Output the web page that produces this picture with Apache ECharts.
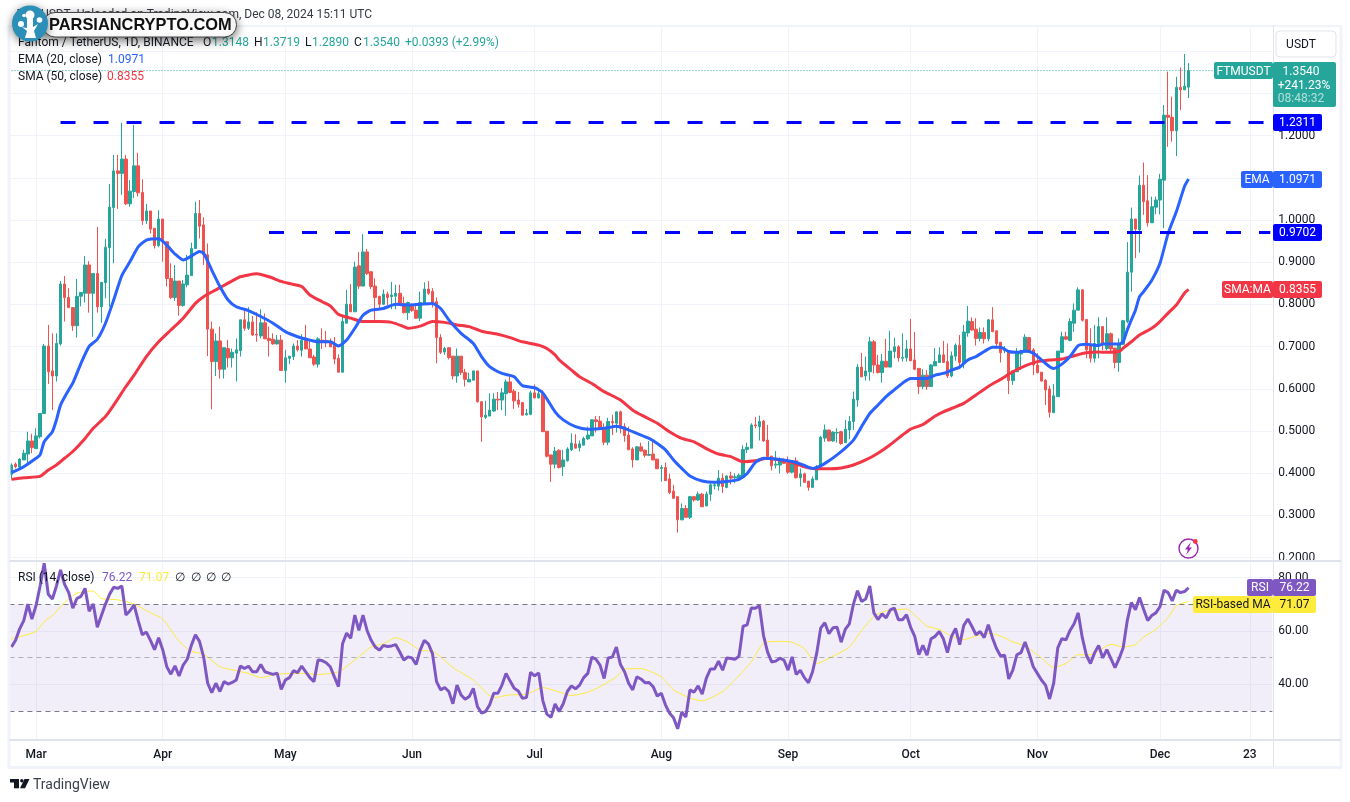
<!DOCTYPE html>
<html>
<head>
<meta charset="utf-8">
<title>FTMUSDT</title>
<script src="https://cdn.jsdelivr.net/npm/echarts@6/dist/echarts.min.js"></script>
<style>
  html, body { margin: 0; padding: 0; background: #fff; }
  #chart { width: 1350px; height: 802px; }
</style>
</head>
<body>
<div id="chart"></div>
<script>
// daily candles, first bar is Feb 24 2024, last is Dec 8 2024. rows of 10
const opens = [
  .395,.419,.412,.429,.443,.474,.456,.484,.539,.699,
  .640,.628,.704,.846,.814,.79,.747,.817,.824,.891,
  .824,.871,.792,.849,.932,1.027,1.114,1.108,1.142,1.036,
  1.065,1.126,1.063,.996,1.019,.978,.937,1.0,.946,.859,
  .814,.853,.795,.844,.866,.93,1.013,.986,.915,.739,
  .662,.711,.644,.693,.671,.682,.688,.761,.741,.756,
  .727,.723,.754,.717,.715,.704,.713,.641,.67,.674,
  .699,.689,.712,.692,.673,.656,.713,.712,.709,.701,
  .67,.637,.753,.798,.78,.889,.841,.922,.875,.841,
  .817,.798,.822,.816,.817,.824,.8,.778,.796,.784,
  .765,.8,.834,.828,.804,.719,.685,.695,.675,.628,
  .675,.636,.614,.618,.64,.567,.53,.533,.545,.573,
  .571,.586,.614,.592,.571,.565,.536,.537,.588,.576,
  .586,.497,.441,.419,.452,.413,.427,.453,.467,.458,
  .464,.479,.486,.524,.521,.504,.471,.52,.516,.543,
  .508,.488,.455,.429,.46,.452,.44,.443,.431,.409,
  .411,.384,.355,.342,.287,.314,.293,.342,.334,.348,
  .32,.348,.368,.367,.386,.364,.391,.387,.385,.389,
  .454,.457,.512,.508,.521,.476,.438,.417,.417,.429,
  .421,.4,.427,.387,.396,.379,.364,.382,.413,.481,
  .5,.474,.493,.496,.47,.50,.52,.571,.649,.628,
  .638,.709,.654,.636,.663,.649,.686,.697,.67,.671,
  .692,.666,.646,.603,.63,.603,.652,.66,.678,.662,
  .628,.675,.701,.66,.73,.757,.739,.717,.731,.716,
  .761,.735,.708,.688,.687,.617,.638,.68,.684,.719,
  .69,.654,.637,.618,.597,.541,.579,.684,.721,.712,
  .753,.784,.832,.762,.701,.67,.701,.745,.693,.728,
  .694,.66,.703,.757,.874,1.0,.974,1.08,1.043,.991,
  1.028,1.045,1.092,1.246,1.241,1.209,1.312,1.306,1.3148
];
const closes = [
  .417,.413,.431,.445,.474,.458,.486,.539,.699,.638,
  .628,.705,.846,.814,.79,.747,.817,.826,.891,.824,
  .871,.792,.85,.933,1.028,1.114,1.108,1.142,1.036,1.066,
  1.126,1.062,.996,1.019,.976,.937,1.0,.946,.859,.814,
  .853,.795,.846,.867,.93,1.013,.983,.915,.739,.662,
  .711,.644,.695,.671,.684,.69,.761,.741,.756,.725,
  .725,.754,.716,.712,.704,.713,.641,.671,.675,.699,
  .69,.712,.692,.671,.656,.716,.711,.707,.697,.668,
  .637,.757,.798,.78,.886,.841,.922,.871,.84,.814,
  .798,.822,.814,.82,.824,.796,.778,.802,.783,.765,
  .802,.834,.824,.8,.719,.684,.693,.672,.628,.675,
  .636,.62,.62,.64,.567,.531,.535,.547,.573,.571,
  .588,.614,.589,.569,.561,.535,.539,.588,.576,.586,
  .496,.438,.419,.45,.411,.429,.455,.469,.457,.467,
  .48,.488,.524,.52,.502,.471,.52,.517,.543,.504,
  .487,.453,.429,.46,.45,.44,.442,.429,.408,.411,
  .38,.352,.338,.287,.314,.293,.342,.334,.348,.318,
  .348,.37,.37,.386,.366,.391,.386,.389,.393,.454,
  .459,.512,.51,.52,.474,.437,.415,.419,.427,.421,
  .4,.427,.387,.396,.376,.364,.384,.413,.483,.50,
  .474,.495,.494,.468,.502,.52,.573,.649,.626,.64,
  .709,.654,.636,.663,.649,.687,.697,.671,.672,.692,
  .664,.644,.603,.63,.603,.654,.662,.678,.66,.628,
  .676,.701,.66,.732,.758,.737,.717,.731,.716,.761,
  .733,.705,.683,.691,.617,.64,.683,.687,.72,.686,
  .654,.636,.616,.595,.542,.581,.687,.721,.715,.757,
  .784,.832,.76,.69,.67,.705,.745,.705,.728,.692,
  .66,.705,.759,.874,1.0,.976,1.08,1.041,.991,1.029,
  1.045,1.094,1.246,1.241,1.209,1.312,1.306,1.3148,1.354
];
const lows = [
  .383,.409,.405,.429,.421,.445,.456,.48,.538,.609,
  .547,.615,.7,.757,.79,.735,.719,.793,.802,.778,
  .721,.778,.754,.812,.792,.895,1.024,1.057,1.033,1.029,
  1.05,1.053,.986,.988,.966,.93,.933,.899,.84,.81,
  .806,.771,.792,.838,.866,.93,.954,.891,.675,.549,
  .628,.622,.622,.648,.648,.615,.674,.735,.737,.723,
  .709,.717,.715,.674,.702,.702,.641,.612,.656,.666,
  .686,.674,.692,.671,.652,.648,.692,.696,.697,.656,
  .637,.636,.753,.78,.78,.834,.841,.867,.834,.761,
  .784,.796,.796,.786,.786,.796,.776,.761,.78,.763,
  .758,.8,.82,.79,.658,.68,.678,.667,.62,.612,
  .63,.603,.614,.618,.565,.472,.526,.533,.543,.547,
  .547,.534,.587,.55,.553,.535,.534,.535,.575,.575,
  .496,.435,.377,.409,.409,.391,.425,.45,.457,.449,
  .464,.476,.486,.494,.5,.464,.464,.488,.494,.492,
  .472,.453,.411,.429,.449,.435,.438,.429,.408,.378,
  .38,.348,.338,.257,.287,.293,.289,.33,.332,.318,
  .32,.332,.359,.356,.351,.362,.371,.374,.381,.389,
  .445,.457,.504,.475,.472,.433,.404,.409,.397,.419,
  .396,.397,.385,.366,.375,.356,.364,.382,.411,.472,
  .474,.472,.47,.465,.47,.478,.50,.555,.625,.617,
  .617,.634,.634,.612,.649,.649,.67,.662,.662,.662,
  .664,.642,.585,.597,.595,.603,.652,.66,.66,.623,
  .625,.664,.65,.646,.721,.735,.7,.71,.705,.71,
  .732,.698,.66,.682,.585,.607,.638,.642,.684,.684,
  .63,.634,.615,.559,.529,.541,.579,.682,.713,.71,
  .733,.784,.757,.67,.66,.66,.67,.689,.689,.682,
  .646,.638,.701,.753,.828,.907,.92,1.01,.982,.991,
  1.011,1.011,.978,1.171,1.183,1.149,1.258,1.306,1.289
];
const highs = [
  .421,.423,.433,.453,.496,.491,.504,.54,.704,.749,
  .729,.729,.853,.865,.836,.79,.858,.826,.912,.90,
  .871,.981,.85,.953,1.083,1.152,1.152,1.228,1.152,1.092,
  1.223,1.157,1.094,1.036,1.019,.978,1.021,1.0,.946,.895,
  .891,.853,.855,.915,.944,1.041,1.045,1.004,.942,.757,
  .729,.745,.695,.713,.693,.717,.762,.788,.791,.77,
  .779,.786,.776,.745,.729,.725,.725,.69,.675,.705,
  .713,.727,.749,.712,.678,.72,.741,.735,.717,.72,
  .679,.768,.832,.846,.899,.922,.964,.929,.875,.859,
  .817,.833,.828,.851,.844,.844,.816,.804,.8,.8,
  .828,.85,.853,.836,.814,.727,.697,.695,.675,.693,
  .675,.645,.636,.64,.64,.567,.569,.587,.587,.59,
  .599,.62,.628,.597,.59,.565,.55,.593,.608,.594,
  .594,.497,.441,.46,.454,.453,.459,.492,.49,.475,
  .484,.508,.525,.533,.533,.516,.529,.536,.543,.546,
  .516,.508,.459,.462,.47,.454,.474,.476,.431,.417,
  .423,.396,.37,.342,.326,.322,.344,.344,.354,.351,
  .354,.374,.378,.405,.397,.393,.401,.397,.397,.464,
  .47,.516,.531,.534,.524,.512,.438,.45,.435,.433,
  .437,.429,.435,.409,.399,.379,.39,.417,.486,.513,
  .5,.497,.504,.498,.524,.533,.591,.656,.683,.674,
  .721,.713,.678,.68,.716,.735,.719,.701,.729,.713,
  .763,.732,.646,.644,.642,.656,.694,.696,.711,.705,
  .686,.705,.725,.749,.794,.767,.765,.743,.743,.763,
  .791,.735,.708,.699,.687,.64,.694,.69,.727,.719,
  .694,.682,.637,.62,.605,.609,.687,.733,.733,.765,
  .8,.838,.834,.762,.741,.749,.767,.745,.767,.731,
  .694,.717,.761,.945,1.027,1.0,1.103,1.134,1.104,1.053,
  1.053,1.107,1.27,1.349,1.29,1.337,1.359,1.391,1.3719
];

// moving averages read at these bar numbers
const emaDays = [0,3,6,7,8,10,11,12,14,15,17,19,21,23,25,27,29,31,33,36,38,40,42,44,46,47,49,51,53,55,58,61,64,67,70,73,75,78,80,82,84,86,88,91,94,97,100,103,105,107,110,113,115,117,120,123,125,128,130,133,135,138,141,145,148,150,153,156,158,160,162,164,166,169,172,175,178,180,182,184,187,190,192,194,196,198,200,202,204,206,208,210,212,214,216,218,220,222,224,226,228,230,232,234,236,238,240,242,244,246,248,250,252,254,255,257,259,261,263,266,267,271,272,273,274,275,276,277,279,281,283,285,287,288];
const emaValues = [.399,.413,.433,.441,.472,.496,.524,.559,.595,.611,.658,.698,.715,.753,.808,.866,.899,.934,.95,.953,.938,.917,.903,.912,.923,.919,.879,.84,.808,.792,.783,.769,.753,.733,.721,.713,.709,.709,.699,.713,.741,.772,.784,.788,.798,.796,.798,.8,.788,.761,.729,.705,.674,.65,.634,.626,.605,.6,.588,.543,.524,.508,.502,.504,.509,.504,.492,.48,.468,.453,.429,.409,.391,.379,.376,.378,.383,.397,.423,.433,.431,.427,.423,.416,.409,.415,.427,.441,.457,.476,.508,.539,.559,.579,.595,.611,.622,.622,.622,.63,.634,.642,.649,.666,.674,.686,.696,.696,.686,.684,.687,.682,.666,.65,.646,.656,.674,.7,.703,.7,.704,.704,.709,.737,.761,.784,.816,.828,.855,.895,.966,1.017,1.077,1.0971];
const smaDays = [0,3,7,9,11,13,15,18,20,23,25,28,30,33,36,39,42,45,47,50,53,56,60,63,66,68,71,73,76,78,80,83,86,90,93,96,97,100,103,106,109,112,115,119,122,125,129,131,133,134,137,139,142,145,149,152,155,158,161,164,167,170,173,176,179,182,185,188,191,194,197,200,203,206,209,212,215,218,220,223,226,228,231,233,236,239,242,245,248,251,254,257,260,263,266,267,271,272,274,276,279,281,283,285,287,288];
const smaValues = [.383,.387,.39,.405,.417,.433,.449,.48,.504,.532,.559,.603,.63,.674,.709,.737,.765,.8,.816,.832,.848,.863,.87,.863,.852,.847,.84,.82,.804,.794,.774,.765,.757,.757,.755,.745,.741,.746,.757,.755,.749,.745,.734,.727,.719,.709,.701,.693,.678,.666,.642,.626,.61,.591,.571,.547,.531,.516,.496,.48,.472,.456,.443,.437,.425,.427,.433,.429,.423,.413,.408,.408,.41,.417,.429,.445,.465,.488,.502,.513,.533,.543,.555,.563,.583,.603,.62,.638,.652,.662,.666,.668,.676,.683,.685,.684,.686,.694,.709,.725,.741,.757,.777,.796,.824,.8355];

const rsiValues = [
  54,56.5,60.8,63.9,70.1,64.5,69.5,76.9,85.4,73.8,
  72,76.9,82.9,77.5,74.4,68.6,72.2,73,76,67.4,
  70.1,61.4,65.8,70.1,73.8,76.4,76,76.9,66,67.6,
  69.8,63.9,58.6,59.6,56.5,53,57.5,53,46.6,43.8,
  46.9,43.1,47.2,49.4,54.6,58.6,56.1,50.3,40.4,36.9,
  40.4,37.3,41,40.1,40.7,41.6,46.9,45.9,46.8,44.7,
  44.7,47.4,44.7,44.2,43.7,44.2,38.1,41.6,42.5,45.1,
  44.4,46.8,44.7,42.5,41,49.1,48.9,48.1,46.6,42.8,
  39.1,55.2,59.2,57.3,66,60.2,66,60.2,56.5,54,
  52.8,54.6,54.2,54.4,54.9,52.1,49.1,50.3,49.9,47.4,
  52.8,56.5,55.2,51.5,41,37.9,38.8,37.3,32.7,39.7,
  36,34.4,35.4,38.5,31.7,29.2,29.8,32.3,36.6,36.6,
  39.7,44.1,41.2,38.5,37.5,34.8,35,44.5,43.2,44.3,
  33.9,28.8,27.6,32.6,29.8,32.7,37.3,39.4,38.3,39.7,
  42.5,44.1,50.2,49.4,47.2,42.2,49.9,50.2,54,47.4,
  44.7,40.4,37.9,42.8,42,40.6,40.7,39.1,35.6,36.6,
  32.3,29.2,27.4,23.3,29.6,27.7,37.9,37,39.4,36.3,
  42.2,45.7,45.7,48.7,45.3,49.9,49.7,49.4,50.5,61.8,
  62.3,68.6,68.5,69.5,58.3,52.1,48.4,48.7,49.8,49.1,
  45.3,50.3,43.7,45.3,42.5,40.6,44.7,51.5,61.1,63.1,
  59,61.2,61.4,55.8,60.6,62.7,70.1,75.1,71.1,72,
  76.9,66.8,64.3,66.4,64.9,67.9,68.6,64.2,64.2,66.1,
  61.4,58,51.1,54.6,50.9,57.1,58,59.8,57.1,51.9,
  58,61,54.9,62.1,64.5,61.7,58.6,59.8,57.5,62.4,
  57.5,53.4,50.6,50.9,42,45.3,51.1,51.9,55.9,51.5,
  46.6,44.1,41.6,39.7,34.5,40.4,53.7,57.1,56.7,60.2,
  62.7,66.8,57.5,50.9,47.8,51.8,54.6,49.9,53,49.6,
  46.3,49.6,53.7,63.9,70.7,68,72.6,68.2,63.9,65.8,
  66.8,69.1,75.3,74.4,71.3,75.3,74.4,74.8,76.22
];
const rsiMaDays = [0,6,8,10,13,16,20,22,26,30,34,37,41,44,47,51,55,58,61,65,71,75,80,84,88,91,94,97,100,103,105,108,113,118,121,122,126,130,133,137,141,144,148,150,154,159,162,166,169,174,177,181,184,188,191,194,197,201,205,208,211,214,219,222,224,227,230,233,236,239,242,245,248,252,255,258,261,264,269,272,275,277,280,283,285,288];
const rsiMaValues = [57.1,59.8,63.5,65.8,70.7,74.2,75,72.2,71.7,70.1,66.8,64.5,56.1,52.4,51.3,46.6,45.1,44.1,42.5,43.8,44.1,43.7,44.7,49.1,54,55.2,57.5,55.8,52.8,52.4,50.3,46.3,41.6,35,35.8,36,36.3,38.8,37.6,35.8,37,39.1,42.8,45.7,45.9,42.8,37.9,34.8,33.8,37.3,41.6,48.4,55.5,56.1,55.8,53.4,47.8,50.5,54,60.2,65.4,67.6,68.2,64.5,61.8,60.6,58.1,56.8,58.1,59.2,58.1,55.9,54.4,49.9,46.3,47.8,51.1,51.1,55,54,54.9,57.7,60.6,65.1,69.5,71.07];

const priceTicks = [.2,.3,.4,.5,.6,.7,.8,.9,1,1.1,1.2,1.3,1.4];
const priceLabels = [.2,.3,.4,.5,.6,.7,.8,.9,1,1.2];
const rsiTicks = [40,60,80];
const monthBars = [6,37,67,98,128,159,190,220,251,281,303];
const monthNames = ["Mar","Apr","May","Jun","Jul","Aug","Sep","Oct","Nov","Dec","23"];
const supportLevels = [1.2311, 0.9702];
const supportStarts = [12, 63];
const lastPrice = 1.354;

// the values above were read against a scale sitting one pixel high, so nudge them.
// the last bar is printed on the chart and stays exact
const READ_BIAS = 0.0024;
const fix = (v, i, arr) => (i < arr.length - 1 ? +(v + READ_BIAS).toFixed(4) : v);

// one category per day, the axis carries on past the last bar
const days = [];
for (let i = 0; i < 309; i++) {
  days.push(new Date(Date.UTC(2024, 1, 24 + i)).toISOString().slice(0, 10));
}
const lastCat = days.length - 1;

const FONT = "Roboto, 'Noto Sans', sans-serif";
const TEXT = "#131722";
const GREEN = "#26a69a";
const RED = "#ef5350";
const BLUE = "#2962ff";
const MA_RED = "#f23645";
const PURPLE = "#7e57c2";
const YELLOW = "#ffeb3b";
const GRID = "#f0f3fa";
const BORDER = "#e0e3eb";

const [o2, c2, l2, h2] = [opens, closes, lows, highs].map(a => a.map(fix));
const candleData = o2.map((o, i) => [o, c2[i], l2[i], h2[i]]);
const isMonth = idx => monthBars.indexOf(idx) >= 0;

// helpers for the bits drawn on top of the panes
function label(x, y, text, color, opts) {
  return Object.assign({
    type: "text", x, y, z: 110, silent: true,
    style: Object.assign({
      text, fill: color || TEXT, font: "12px " + FONT,
      textVerticalAlign: "middle", textAlign: "left"
    }, opts || {})
  });
}
function box(x, y, w, h, fill, r) {
  return {
    type: "rect", z: 105, silent: true,
    shape: { x, y, width: w, height: h, r: r || 0 },
    style: { fill }
  };
}
function hline(x1, x2, y, color, width) {
  return {
    type: "line", z: 90, silent: true,
    shape: { x1, y1: y, x2, y2: y },
    style: { stroke: color, lineWidth: width || 1 }
  };
}
function vline(x, y1, y2, color, width) {
  return {
    type: "line", z: 90, silent: true,
    shape: { x1: x, y1, x2: x, y2 },
    style: { stroke: color, lineWidth: width || 1 }
  };
}
const mid = { textAlign: "center" };

const graphics = [
  // frame
  hline(8, 1342, 26, GRID, 2),
  hline(8, 1342, 767.5, GRID, 3),
  vline(9, 26, 768, GRID, 3),
  vline(1341, 26, 768, GRID, 3),
  vline(1273.5, 26, 767, BORDER),
  hline(9, 1341, 561, BORDER, 2),
  hline(9, 1341, 740, BORDER, 2),

  // header + legends
  label(372, 15, "FTMUSDT  Uploaded on TradingView.com, Dec 08, 2024 15:11 UTC", "#363a45", { textAlign: "right" }),
  label(18, 42.5, "Fantom / TetherUS, 1D, BINANCE", TEXT),
  label(203, 42.5, "O", TEXT), label(212, 42.5, "1.3148", GREEN),
  label(254, 42.5, "H", TEXT), label(263, 42.5, "1.3719", GREEN),
  label(305, 42.5, "L", TEXT), label(312, 42.5, "1.2890", GREEN),
  label(354, 42.5, "C", TEXT), label(363, 42.5, "1.3540", GREEN),
  label(405, 42.5, "+0.0393 (+2.99%)", GREEN),
  label(18, 60, "EMA (20, close)", TEXT), label(108, 60, "1.0971", BLUE),
  label(18, 77, "SMA (50, close)", TEXT), label(107, 77, "0.8355", MA_RED),
  label(18, 578, "RSI (14, close)", TEXT), label(102, 578, "76.22", PURPLE),
  label(139, 578, "71.07", YELLOW),
  label(175, 578, "\u2205", TEXT), label(191, 578, "\u2205", TEXT),
  label(206, 578, "\u2205", TEXT), label(221, 578, "\u2205", TEXT),

  // right scale tags
  { type: "rect", z: 105, silent: true, shape: { x: 1276, y: 31, width: 60, height: 26, r: 4 }, style: { fill: "#fff", stroke: BORDER, lineWidth: 1 } },
  label(1301, 45, "USDT", TEXT, mid),
  box(1214, 62, 59, 17, GREEN, 2),
  label(1243.5, 71.5, "FTMUSDT", "#fff", mid),
  box(1273, 62, 63, 45, GREEN, 2),
  label(1301, 71.5, "1.3540", "#fff", mid),
  label(1304, 85.5, "+241.23%", "#fff", mid),
  label(1301, 99, "08:48:32", "rgba(255,255,255,0.65)", mid),
  box(1273, 114, 49, 17, "#0000ff", 2),
  label(1297.5, 123, "1.2311", "#fff", mid),
  box(1241, 171, 32, 17, BLUE, 2),
  label(1257, 180, "EMA", "#fff", mid),
  box(1273, 171, 49, 17, BLUE, 2),
  label(1297.5, 180, "1.0971", "#fff", mid),
  box(1273, 224, 49, 17, "#0000ff", 2),
  label(1297.5, 233, "0.9702", "#fff", mid),
  box(1222, 281, 51, 17, MA_RED, 2),
  label(1247.5, 290, "SMA:MA", "#fff", mid),
  box(1273, 281, 49, 17, MA_RED, 2),
  label(1297.5, 290, "0.8355", "#fff", mid),
  box(1247, 579, 26, 17, PURPLE, 2),
  label(1260, 588, "RSI", "#fff", mid),
  box(1273, 579, 43, 17, PURPLE, 2),
  label(1294.5, 588, "76.22", "#fff", mid),
  box(1193, 596, 80, 17, YELLOW, 2),
  label(1233, 605, "RSI-based MA", TEXT, mid),
  box(1273, 596, 43, 17, YELLOW, 2),
  label(1294.5, 605, "71.07", TEXT, mid),

  // lightning badge
  { type: "circle", z: 105, silent: true, shape: { cx: 1188.5, cy: 548.5, r: 9.5 }, style: { fill: "#fff", stroke: "#9c27b0", lineWidth: 1.4 } },
  { type: "polygon", z: 106, silent: true, shape: { points: [[1191, 542], [1185, 549.5], [1188, 549.5], [1186, 555], [1192, 547.5], [1189, 547.5]] }, style: { fill: "#9c27b0" } },
  { type: "circle", z: 107, silent: true, shape: { cx: 1195.3, cy: 541.5, r: 2.4 }, style: { fill: MA_RED } },

  // TradingView mark
  box(10, 779, 9, 3.5, "#131722"),
  box(14, 782, 5, 6.3, "#131722"),
  { type: "circle", z: 105, silent: true, shape: { cx: 21.8, cy: 780.7, r: 1.7 }, style: { fill: "#131722" } },
  { type: "polygon", z: 105, silent: true, shape: { points: [[24.5, 779], [29.5, 779], [25, 788.3], [20, 788.3]] }, style: { fill: "#131722" } },
  label(33, 785, "TradingView", "#3b3f4a", { font: "14px " + FONT }),

  // watermark logo
  { type: "rect", z: 120, silent: true, shape: { x: 43, y: 12.5, width: 193.5, height: 24.5, r: 12 },
    style: { fill: "#fff", stroke: "#444", lineWidth: 1, shadowBlur: 10, shadowColor: "rgba(0,0,0,0.55)", shadowOffsetY: 3 } },
  { type: "circle", z: 121, silent: true, shape: { cx: 30, cy: 23.5, r: 18 },
    style: { fill: "#2b8fb8", shadowBlur: 8, shadowColor: "rgba(0,0,0,0.5)", shadowOffsetY: 2 } },
  { type: "circle", z: 122, silent: true, shape: { cx: 30, cy: 15, r: 4.5 }, style: { fill: "#fff" } },
  { type: "circle", z: 122, silent: true, shape: { cx: 21, cy: 24, r: 3 }, style: { fill: "#fff" } },
  { type: "circle", z: 122, silent: true, shape: { cx: 39.5, cy: 20, r: 2.8 }, style: { fill: "#fff" } },
  { type: "circle", z: 122, silent: true, shape: { cx: 24, cy: 15.5, r: 1.8 }, style: { fill: "#fff" } },
  { type: "polygon", z: 122, silent: true, shape: { points: [[27, 19], [33, 19], [33, 27], [38, 24], [34, 31], [36, 38], [25, 38], [27, 31], [22, 27], [27, 28]] }, style: { fill: "#fff" } },
  Object.assign(label(49, 25.5, "PARSIANCRYPTO.COM", "#111", { font: "bold 16.4px 'Liberation Sans', Arial, sans-serif" }), { z: 125 })
];

const chart = echarts.init(document.getElementById("chart"));

chart.setOption({
  animation: false,
  backgroundColor: "#fff",
  textStyle: { fontFamily: FONT },
  grid: [
    { left: 9.45, width: 1262.9, top: 27, height: 533 },
    { left: 9.45, width: 1262.9, top: 562, height: 177.5 }
  ],
  xAxis: [
    {
      type: "category", gridIndex: 0, data: days,
      axisLine: { show: false }, axisTick: { show: false }, axisLabel: { show: false },
      splitLine: { show: true, alignWithLabel: true, interval: isMonth, lineStyle: { color: GRID, width: 1 } }
    },
    {
      type: "category", gridIndex: 1, data: days,
      axisLine: { show: false }, axisTick: { show: false },
      axisLabel: {
        interval: isMonth, margin: 9, color: TEXT, fontSize: 12, fontWeight: 500, fontFamily: FONT,
        formatter: (v, idx) => monthNames[monthBars.indexOf(idx)] || ""
      },
      splitLine: { show: true, alignWithLabel: true, interval: isMonth, lineStyle: { color: GRID, width: 1 } }
    }
  ],
  yAxis: [
    {
      type: "value", gridIndex: 0, position: "right", scale: true, min: 0.19431, max: 1.45735,
      axisLine: { show: false },
      axisTick: { show: false, customValues: priceTicks },
      axisLabel: { customValues: priceLabels, margin: 6, padding: [2, 0, 0, 0], color: TEXT, fontSize: 12, fontFamily: FONT, formatter: v => v.toFixed(4) },
      splitLine: { show: true, lineStyle: { color: GRID, width: 1 } }
    },
    {
      type: "value", gridIndex: 1, position: "right", scale: true, min: 19.29, max: 85.89,
      axisLine: { show: false },
      axisTick: { show: false, customValues: rsiTicks },
      axisLabel: { customValues: rsiTicks, margin: 6, padding: [2, 0, 0, 0], color: TEXT, fontSize: 12, fontFamily: FONT, formatter: v => v.toFixed(2) },
      splitLine: { show: true, lineStyle: { color: GRID, width: 1 } }
    }
  ],
  series: [
    {
      type: "line", xAxisIndex: 0, yAxisIndex: 0, silent: true, symbol: "none", z: 2,
      data: [[0, lastPrice], [lastCat, lastPrice]],
      lineStyle: { color: GREEN, width: 1, type: [1, 2] }
    },
    {
      type: "candlestick", xAxisIndex: 0, yAxisIndex: 0, silent: true, z: 3,
      barWidth: 3, data: candleData,
      itemStyle: { color: GREEN, color0: RED, borderColor: GREEN, borderColor0: RED, borderWidth: 1 }
    },
    {
      type: "line", name: "SMA", xAxisIndex: 0, yAxisIndex: 0, silent: true, symbol: "none", z: 4, smooth: 0.2,
      data: smaDays.map((d, i) => [d, fix(smaValues[i], i, smaValues)]),
      lineStyle: { color: MA_RED, width: 3 }
    },
    {
      type: "line", name: "EMA", xAxisIndex: 0, yAxisIndex: 0, silent: true, symbol: "none", z: 5, smooth: 0.2,
      data: emaDays.map((d, i) => [d, fix(emaValues[i], i, emaValues)]),
      lineStyle: { color: BLUE, width: 3 }
    },
    ...supportLevels.map((lvl, i) => ({
      type: "line", xAxisIndex: 0, yAxisIndex: 0, silent: true, symbol: "none", z: 6,
      data: [[supportStarts[i], lvl], [lastCat, lvl]],
      lineStyle: { color: "#0000ff", width: 3, type: [15, 18] }
    })),
    {
      // overbought shade, only the part of RSI above 70
      type: "line", xAxisIndex: 1, yAxisIndex: 1, silent: true, symbol: "none", z: 2,
      data: rsiValues.map(v => Math.max(v, 70)),
      lineStyle: { width: 0 },
      areaStyle: {
        origin: 70,
        color: new echarts.graphic.LinearGradient(0, 0, 0, 1, [
          { offset: 0, color: "rgba(38,166,154,0.25)" },
          { offset: 1, color: "rgba(38,166,154,0.02)" }
        ])
      }
    },
    {
      type: "line", name: "RSI-based MA", xAxisIndex: 1, yAxisIndex: 1, silent: true, symbol: "none", z: 4, smooth: 0.2,
      data: rsiMaDays.map((d, i) => [d, rsiMaValues[i]]),
      lineStyle: { color: YELLOW, width: 1 }
    },
    {
      type: "line", name: "RSI", xAxisIndex: 1, yAxisIndex: 1, silent: true, symbol: "none", z: 5,
      data: rsiValues,
      lineStyle: { color: PURPLE, width: 3 },
      markArea: {
        silent: true,
        itemStyle: { color: "rgba(126,87,194,0.1)" },
        data: [[{ yAxis: 70 }, { yAxis: 30 }]]
      },
      markLine: {
        silent: true, symbol: "none", label: { show: false },
        data: [
          { yAxis: 70, lineStyle: { color: "#787b86", type: [5, 4], width: 1 } },
          { yAxis: 50, lineStyle: { color: "rgba(120,123,134,0.55)", type: [5, 4], width: 1 } },
          { yAxis: 30, lineStyle: { color: "#787b86", type: [5, 4], width: 1 } }
        ]
      }
    }
  ],
  graphic: graphics
});
</script>
</body>
</html>
